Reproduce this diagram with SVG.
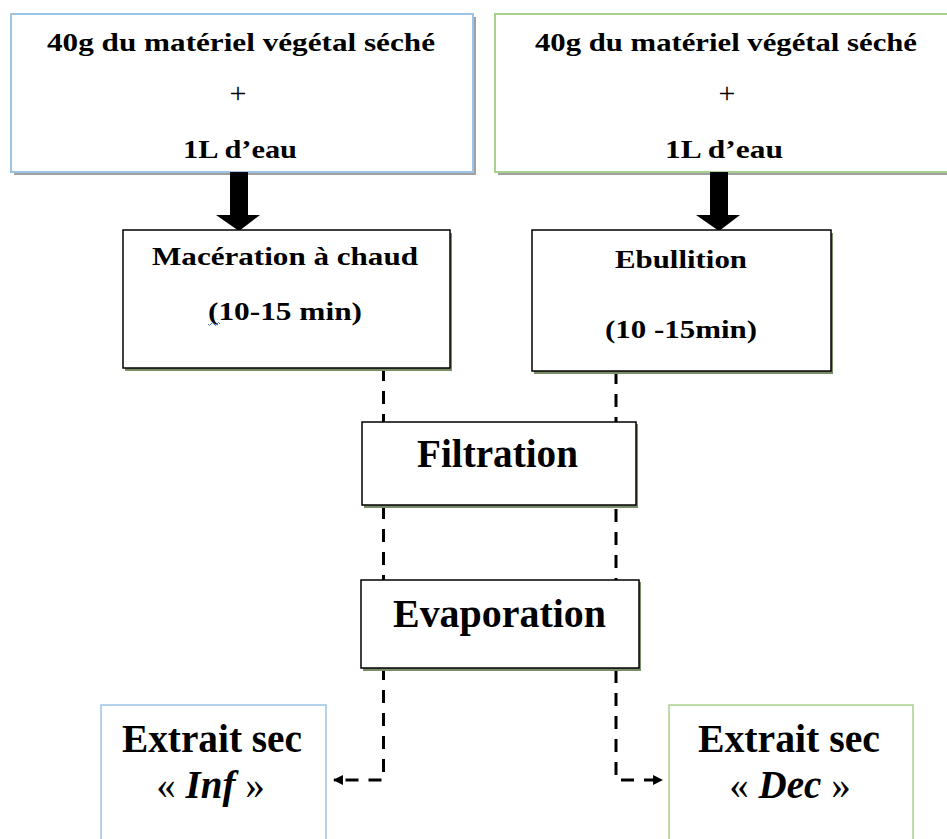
<svg xmlns="http://www.w3.org/2000/svg" width="947" height="839" viewBox="0 0 947 839">
<style>
.t{font-family:"Liberation Serif","Times New Roman",serif;font-weight:bold;fill:#000;text-anchor:middle}
.n{font-weight:normal}
.box{fill:#fff;stroke:#000;stroke-width:1.5}
.sh{fill:#7a8c68}
.gsh{fill:#a0a0a0}
.dash{fill:none;stroke:#000;stroke-width:3;stroke-dasharray:13,10}
</style>
<defs>
<marker id="ah" viewBox="0 0 10 10" refX="9" refY="5" markerWidth="3.3" markerHeight="3.3" orient="auto"><path d="M0,0 L10,5 L0,10 z" fill="#000"/></marker>
</defs>
<rect width="947" height="839" fill="#fff"/>
<g id="src-left">
<rect class="gsh" x="14" y="17" width="462" height="158"/>
<rect x="11" y="14" width="462" height="158" fill="#fff" stroke="#9dc3e6" stroke-width="2"/>
<text class="t" x="241" y="51" font-size="25" textLength="388" lengthAdjust="spacingAndGlyphs">40g du matériel végétal séché</text>
<text class="t n" x="238" y="103" font-size="30">+</text>
<text class="t" x="240" y="158" font-size="25" textLength="114" lengthAdjust="spacingAndGlyphs">1L d’eau</text>
</g>
<g id="src-right">
<rect class="gsh" x="498" y="17" width="460" height="158"/>
<rect x="495" y="14" width="460" height="158" fill="#fff" stroke="#a9d18e" stroke-width="2"/>
<text class="t" x="726" y="51" font-size="25" textLength="382" lengthAdjust="spacingAndGlyphs">40g du matériel végétal séché</text>
<text class="t n" x="727" y="103" font-size="30">+</text>
<text class="t" x="724" y="158" font-size="25" textLength="118" lengthAdjust="spacingAndGlyphs">1L d’eau</text>
</g>
<g id="connectors">
<path d="M230,172 H248 V215 H260 L239,231 L216,215 H230 Z" fill="#000"/>
<path d="M710,172 H728 V215 H740 L719,231 L696,215 H710 Z" fill="#000"/>
<path class="dash" d="M383.5,368 V780 H334" marker-end="url(#ah)"/>
<path class="dash" d="M616,371 V780 H662" marker-end="url(#ah)"/>
</g>
<g id="maceration">
<rect class="sh" x="125" y="233" width="327" height="138"/>
<rect class="box" x="123" y="230" width="327" height="138"/>
<text class="t" x="285" y="265" font-size="26" textLength="266" lengthAdjust="spacingAndGlyphs">Macération à chaud</text>
<text class="t" x="285" y="320" font-size="26" textLength="154" lengthAdjust="spacingAndGlyphs">(10-15 min)</text>
<path d="M208,324 q1.5,3 3,0 t3,0 t3,0 t3,0" fill="none" stroke="#4472c4" stroke-width="1"/>
</g>
<g id="ebullition">
<rect class="sh" x="534" y="233" width="299" height="141"/>
<rect class="box" x="532" y="230" width="299" height="141"/>
<text class="t" x="681" y="268" font-size="26" textLength="132" lengthAdjust="spacingAndGlyphs">Ebullition</text>
<text class="t" x="681" y="338" font-size="26" textLength="152" lengthAdjust="spacingAndGlyphs">(10 -15min)</text>
</g>
<g id="filtration">
<rect class="sh" x="364" y="424" width="274" height="84"/>
<rect class="box" x="362" y="422" width="274" height="83"/>
<text class="t" x="497.5" y="467" font-size="39" textLength="161" lengthAdjust="spacingAndGlyphs">Filtration</text>
</g>
<g id="evaporation">
<rect class="sh" x="363" y="582" width="278" height="89"/>
<rect class="box" x="361" y="580" width="278" height="88"/>
<text class="t" x="499.5" y="627" font-size="39" textLength="213" lengthAdjust="spacingAndGlyphs">Evaporation</text>
</g>
<g id="inf">
<rect x="101" y="705" width="225" height="150" fill="#fff" stroke="#9dc3e6" stroke-width="1.5"/>
<text class="t" x="212" y="752" font-size="39" textLength="180" lengthAdjust="spacingAndGlyphs">Extrait sec</text>
<text class="t" x="210.5" y="798" font-size="39"><tspan class="n">« </tspan><tspan font-style="italic">Inf</tspan><tspan class="n"> »</tspan></text>
</g>
<g id="dec">
<rect x="669" y="705" width="244" height="150" fill="#fff" stroke="#a9d18e" stroke-width="1.5"/>
<text class="t" x="789" y="752" font-size="39" textLength="182" lengthAdjust="spacingAndGlyphs">Extrait sec</text>
<text class="t" x="790" y="798" font-size="39"><tspan class="n">« </tspan><tspan font-style="italic">Dec</tspan><tspan class="n"> »</tspan></text>
</g>
</svg>
